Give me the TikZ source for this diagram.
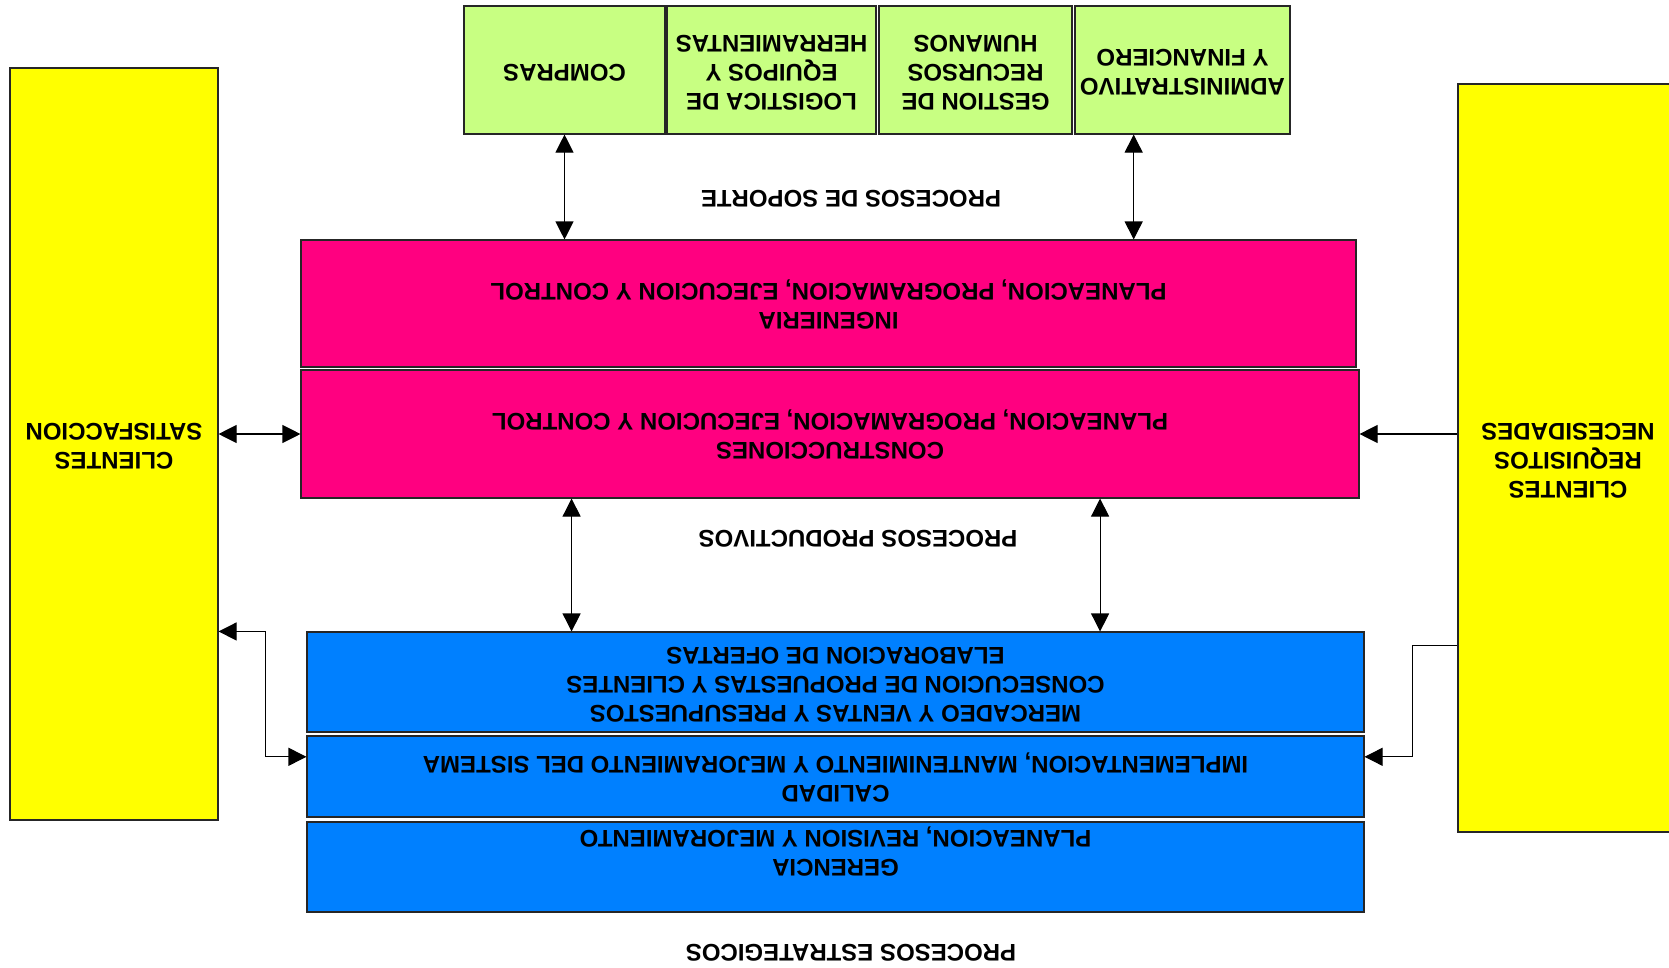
\documentclass[tikz,border=0pt]{standalone}
\usepackage{fontspec}
\usepackage{graphicx}
\setmainfont{Liberation Sans}
\usetikzlibrary{arrows.meta,calc}

\definecolor{soporte}{RGB}{200,255,130}
\definecolor{producto}{RGB}{255,0,128}
\definecolor{estrategia}{RGB}{0,128,255}
\definecolor{cliente}{RGB}{255,255,0}

% text turned half a turn, lines centred
\newcommand\flipped[1]{\rotatebox[origin=c]{180}{\begin{tabular}{@{}c@{}}#1\end{tabular}}}

\tikzset{
  txt/.style={align=center, inner sep=0pt,
    font=\fontsize{24}{28.75}\selectfont\bfseries},
  box/.style={txt, draw=black!85, line width=1.1pt},
  link/.style={line width=1.1pt, -{Triangle[length=18pt,width=18pt]}},
  twoway/.style={line width=1.1pt, {Triangle[length=18pt,width=18pt]}-{Triangle[length=18pt,width=18pt]}},
}

\begin{document}
\begin{tikzpicture}[x=1pt, y=-1pt]
\useasboundingbox (0,0) rectangle (1669,967);

% clients on both sides
\node[box, fill=cliente, minimum width=208, minimum height=752] (lefty) at (114,444)
  {\flipped{CLIENTES\\SATISFACCION}};
\node[box, fill=cliente, minimum width=220, minimum height=748] (righty) at (1568,458)
  {\flipped{CLIENTES\\REQUISITOS\\NECESIDADES}};

% support processes
\node[box, fill=soporte, minimum width=201, minimum height=128] (compras) at (564.5,70)
  {\flipped{COMPRAS}};
\node[box, fill=soporte, minimum width=209, minimum height=128] (logistica) at (771.5,70)
  {\flipped{LOGISTICA DE\\EQUIPOS Y\\HERRAMIENTAS}};
\node[box, fill=soporte, minimum width=193, minimum height=128] (gestion) at (975.5,70)
  {\flipped{GESTION DE\\RECURSOS\\HUMANOS}};
\node[box, fill=soporte, minimum width=215, minimum height=128] (admin) at (1182.5,70)
  {\flipped{ADMINISTRATIVO\\Y FINANCIERO}};

% productive processes
\node[box, fill=producto, minimum width=1055, minimum height=127] (ing) at (828.5,303.5)
  {\flipped{INGENIERIA\\PLANEACION, PROGRAMACION, EJECUCION Y CONTROL}};
\node[box, fill=producto, minimum width=1058, minimum height=128] (constr) at (830,434)
  {\flipped{CONSTRUCCIONES\\PLANEACION, PROGRAMACION, EJECUCION Y CONTROL}};

% strategic processes
\node[box, fill=estrategia, minimum width=1057, minimum height=100] (merc) at (835.5,682)
  {\flipped{MERCADEO Y VENTAS Y PRESUPUESTOS\\CONSECUCION DE PROPUESTAS Y CLIENTES\\ELABORACION DE OFERTAS}};
\node[box, fill=estrategia, minimum width=1057, minimum height=81] (calidad) at (835.5,776.5)
  {\flipped{CALIDAD\\IMPLEMENTACION, MANTENIMIENTO Y MEJORAMIENTO DEL SISTEMA}};
\node[box, fill=estrategia, minimum width=1057, minimum height=90] (gerencia) at (835.5,867) {};
\node[txt] (gerenciatxt) at (835.5,851)
  {\flipped{GERENCIA\\PLANEACION, REVISION Y MEJORAMIENTO}};

% group titles
\node[txt] (tsoporte) at (851,196) {\flipped{PROCESOS DE SOPORTE}};
\node[txt] (tproductivo) at (858,536) {\flipped{PROCESOS PRODUCTIVOS}};
\node[txt] (testrategico) at (851,950) {\flipped{PROCESOS ESTRATEGICOS}};

% anchor points for the connectors
\coordinate (adm) at ($(admin.south west)!0.274!(admin.south east)$);
\coordinate (cs1) at ($(constr.south west)!0.256!(constr.south east)$);
\coordinate (cs2) at ($(constr.south west)!0.755!(constr.south east)$);
\coordinate (calw) at ($(calidad.north west)!0.26!(calidad.south west)$);
\coordinate (cale) at ($(calidad.north east)!0.26!(calidad.south east)$);
\coordinate (mre) at ($(merc.north east)!0.14!(merc.south east)$);

% connectors
\draw[twoway] (compras.south) -- (compras.south |- ing.north);
\draw[twoway] (adm) -- (adm |- ing.north);
\draw[twoway] (lefty.east |- constr.west) -- (constr.west);
\draw[link] (righty.west |- constr.east) -- (constr.east);
\draw[twoway] (cs1) -- (cs1 |- merc.north);
\draw[twoway] (cs2) -- (cs2 |- merc.north);
\draw[twoway] (lefty.east |- merc.north) -- ++(47,0) |- (calw);
\draw[link] (righty.west |- mre) -- ++(-45,0) |- (cale);
\end{tikzpicture}
\end{document}
